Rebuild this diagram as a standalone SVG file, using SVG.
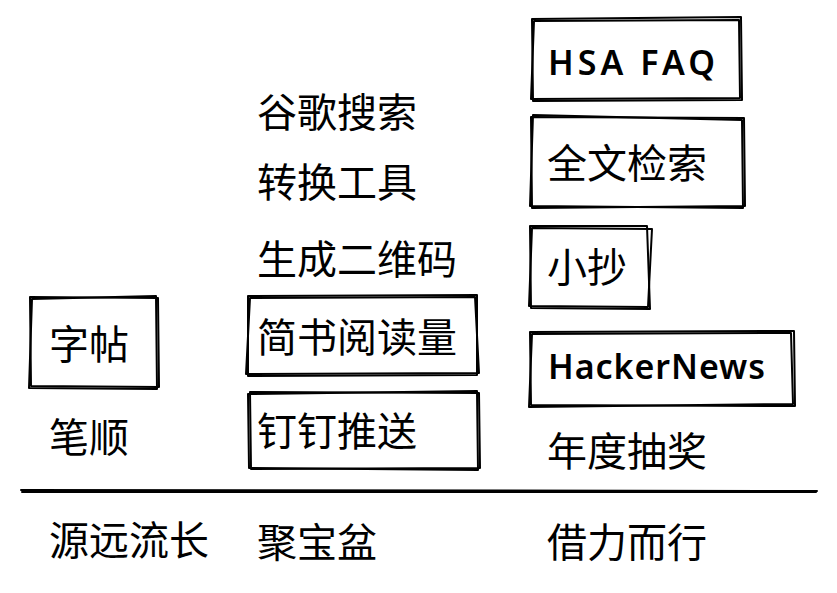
<svg xmlns="http://www.w3.org/2000/svg" width="837" height="593" viewBox="0 0 837 593">
<style>
.t{font-family:"Noto Sans CJK SC","Noto Sans",sans-serif;font-size:40px;fill:#000}
.h{font-family:"Noto Sans","Liberation Sans",sans-serif;font-size:34px;font-weight:600;fill:#000}
.b{fill:none;stroke:#000;stroke-width:2;stroke-linecap:round;stroke-linejoin:round}
</style>
<rect width="837" height="593" fill="#fff"/>
<g id="hsa"><path class="b" d="M532 19 L741 17 L742 100 L533 101 Z"/><path class="b" d="M534 21 L739 20 L740 98 L531 99 Z"/><text class="h" x="548" y="75" textLength="167" lengthAdjust="spacing">HSA FAQ</text></g>
<g id="quanwen"><path class="b" d="M531 117 L744 118 L745 206 L532 208 Z"/><path class="b" d="M533 115 L742 120 L743 208 L530 206 Z"/><text class="t" x="547" y="178">全文检索</text></g>
<g id="xiaochao"><path class="b" d="M530 226 L647 226 L650 309 L531 308 Z"/><path class="b" d="M532 228 L652 229 L648 307 L529 306 Z"/><text class="t" x="547" y="282">小抄</text></g>
<g id="hn"><path class="b" d="M530 332 L794 331 L795 406 L531 405 Z"/><path class="b" d="M532 334 L791 333 L793 404 L529 407 Z"/><text class="h" x="548" y="379" textLength="217" lengthAdjust="spacing">HackerNews</text></g>
<g id="niandu"><text class="t" x="547" y="466">年度抽奖</text></g>
<g id="guge"><text class="t" x="257" y="127">谷歌搜索</text></g>
<g id="zhuanhuan"><text class="t" x="257" y="197">转换工具</text></g>
<g id="erweima"><text class="t" x="257" y="274">生成二维码</text></g>
<g id="jianshu"><path class="b" d="M248 296 L477 295 L477 375 L248 376 Z"/><path class="b" d="M250 298 L475 297 L479 373 L246 374 Z"/><text class="t" x="257" y="352">简书阅读量</text></g>
<g id="dingding"><path class="b" d="M250 392 L479 393 L480 468 L251 469 Z"/><path class="b" d="M248 394 L477 391 L478 470 L249 468 Z"/><text class="t" x="257" y="446">钉钉推送</text></g>
<g id="zitie"><path class="b" d="M30 297 L158 298 L159 387 L31 386 Z"/><path class="b" d="M32 299 L156 296 L157 389 L29 388 Z"/><text class="t" x="49" y="359">字帖</text></g>
<g id="bishun"><text class="t" x="49" y="452">笔顺</text></g>
<g id="connectors"><path class="b" d="M21 490 L817 491"/><path class="b" d="M22 492 L816 492"/></g>
<g id="yuanyuan"><text class="t" x="49" y="555">源远流长</text></g>
<g id="jubao"><text class="t" x="257" y="557">聚宝盆</text></g>
<g id="jieli"><text class="t" x="547" y="557">借力而行</text></g>
</svg>
